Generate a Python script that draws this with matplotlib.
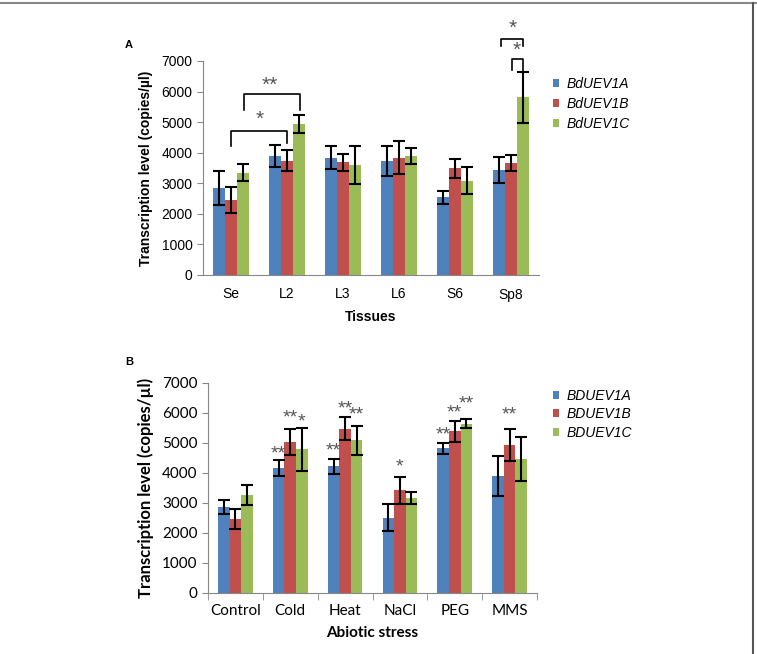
import matplotlib.pyplot as plt
import numpy as np
from matplotlib.lines import Line2D

# panel A: tissues
tissues = ['Se', 'L2', 'L3', 'L6', 'S6', 'Sp8']
a_means = {
    'BdUEV1A': [2840, 3890, 3840, 3740, 2540, 3435],
    'BdUEV1B': [2450, 3740, 3690, 3840, 3490, 3650],
    'BdUEV1C': [3350, 4930, 3600, 3900, 3090, 5810],
}
a_errs = {
    'BdUEV1A': [550, 360, 380, 490, 220, 420],
    'BdUEV1B': [420, 340, 280, 530, 320, 260],
    'BdUEV1C': [280, 300, 620, 260, 450, 840],
}
# brackets: (x_left, x_right, top, left_drop, right_drop, label, label_x, label_y)
a_brackets = [
    (0.0, 1.0, 4710, 4230, 4310, '*', 0.52, 5080),
    (0.23, 1.23, 5910, 5400, 5400, '**', 0.70, 6200),
    (4.82, 5.22, 7710, 7490, 7490, '*', 5.03, 8080),
    (5.02, 5.22, 7055, 6700, 6670, '*', 5.10, 7350),
]

# panel B: abiotic stress
stresses = ['Control', 'Cold', 'Heat', 'NaCl', 'PEG', 'MMS']
b_means = {
    'BDUEV1A': [2870, 4170, 4220, 2510, 4820, 3890],
    'BDUEV1B': [2455, 5030, 5480, 3420, 5390, 4945],
    'BDUEV1C': [3270, 4790, 5090, 3170, 5640, 4480],
}
b_errs = {
    'BDUEV1A': [240, 270, 260, 450, 170, 670],
    'BDUEV1B': [330, 430, 380, 450, 340, 530],
    'BDUEV1C': [340, 710, 480, 210, 145, 730],
}
b_stars = {
    'BDUEV1A': ['', '**', '**', '', '**', ''],
    'BDUEV1B': ['', '**', '**', '*', '**', '**'],
    'BDUEV1C': ['', '*', '**', '', '**', ''],
}
# height of each star label
b_star_y = {
    'BDUEV1A': [0, 4640, 4730, 0, 5280, 0],
    'BDUEV1B': [0, 5830, 6140, 4200, 6010, 5945],
    'BDUEV1C': [0, 5700, 5920, 0, 6290, 0],
}

colors = ['#4F81BD', '#C0504D', '#9BBB59']
width = 0.21
arial = 'Liberation Sans'
calibri = 'Lato'
plt.rcParams['font.family'] = arial

fig = plt.figure(figsize=(7.57, 6.54), dpi=100)

# frame around the figure
fig.add_artist(Line2D([0, 1], [1 - 3 / 654] * 2, color='#888888', lw=1.5))
fig.add_artist(Line2D([1 - 4 / 757] * 2, [0, 1 - 3 / 654], color='#555555', lw=1.5))


def draw_bars(ax, cats, means, errs, font, size):
    x = np.arange(len(cats))
    for i, (name, vals) in enumerate(means.items()):
        pos = x + (i - 1) * width
        ax.bar(pos, vals, width, color=colors[i], label=name, zorder=2)
        ax.errorbar(pos, vals, yerr=errs[name], fmt='none', ecolor='black',
                    elinewidth=1.5, capsize=4, capthick=1.5, zorder=3)
    ax.set_xlim(-0.5, len(cats) - 0.5)
    ax.set_ylim(0, 7000)
    yt = list(range(0, 7001, 1000))
    ax.set_yticks(yt, [str(v) for v in yt], family=font, fontsize=size)
    ax.set_xticks(x, cats, family=font, fontsize=size)
    for s in ['top', 'right']:
        ax.spines[s].set_visible(False)
    for s in ['left', 'bottom']:
        ax.spines[s].set_color('#888888')
    ax.tick_params(axis='y', color='#888888', length=4)
    return x


# ---- panel A
axA = fig.add_axes([203 / 757, 1 - 275 / 654, 336 / 757, 214 / 654])
x = draw_bars(axA, tissues, a_means, a_errs, arial, 10)
axA.tick_params(axis='x', length=0, pad=9)
axA.set_xlabel('Tissues', family=arial, fontsize=10, fontweight='bold', labelpad=6)
axA.set_ylabel('Transcription level (copies/µl)', family=arial, fontsize=10,
               fontweight='bold', labelpad=6)
for xl, xr, top, dl, dr, lab, lx, ly in a_brackets:
    axA.plot([xl, xl, xr, xr], [dl, top, top, dr], color='black', lw=1.2,
             clip_on=False, zorder=4)
    axA.text(lx, ly, lab, ha='center', va='center', fontsize=15,
             color='#555555', family=arial, clip_on=False)
axA.legend(loc='upper left', bbox_to_anchor=(540 / 757, 1 - 64 / 654),
           bbox_transform=fig.transFigure, frameon=False, handlelength=0.5,
           handleheight=0.5, handletextpad=0.5, labelspacing=0.45,
           prop={'family': arial, 'style': 'italic', 'size': 10})
fig.text(129 / 757, 1 - 45 / 654, 'A', family=arial, fontsize=8,
         fontweight='bold', ha='center', va='center')

# ---- panel B
axB = fig.add_axes([208 / 757, 1 - 593 / 654, 329 / 757, 210 / 654])
x = draw_bars(axB, stresses, b_means, b_errs, calibri, 11)
axB.set_xticks(np.arange(len(stresses) + 1) - 0.5, minor=True)
axB.tick_params(axis='x', which='major', length=0, pad=8)
axB.tick_params(axis='x', which='minor', length=5, color='#888888')
axB.set_xlabel('Abiotic stress', family=calibri, fontsize=11, fontweight='bold',
               labelpad=6)
axB.set_ylabel('Transcription level (copies/µl)', family=calibri, fontsize=12,
               fontweight='bold', labelpad=6)
for i, name in enumerate(b_means):
    for j, star in enumerate(b_stars[name]):
        if star:
            axB.text(j + (i - 1) * width, b_star_y[name][j], star,
                     ha='center', va='center', fontsize=14,
                     color='#555555', family=arial, clip_on=False)
axB.legend(loc='upper left', bbox_to_anchor=(540 / 757, 1 - 376 / 654),
           bbox_transform=fig.transFigure, frameon=False, handlelength=0.5,
           handleheight=0.5, handletextpad=0.5, labelspacing=0.35,
           prop={'family': arial, 'style': 'italic', 'size': 10})
fig.text(129 / 757, 1 - 362 / 654, 'B', family=arial, fontsize=8,
         fontweight='bold', ha='center', va='center')

fig.savefig('out.png', dpi=100)
